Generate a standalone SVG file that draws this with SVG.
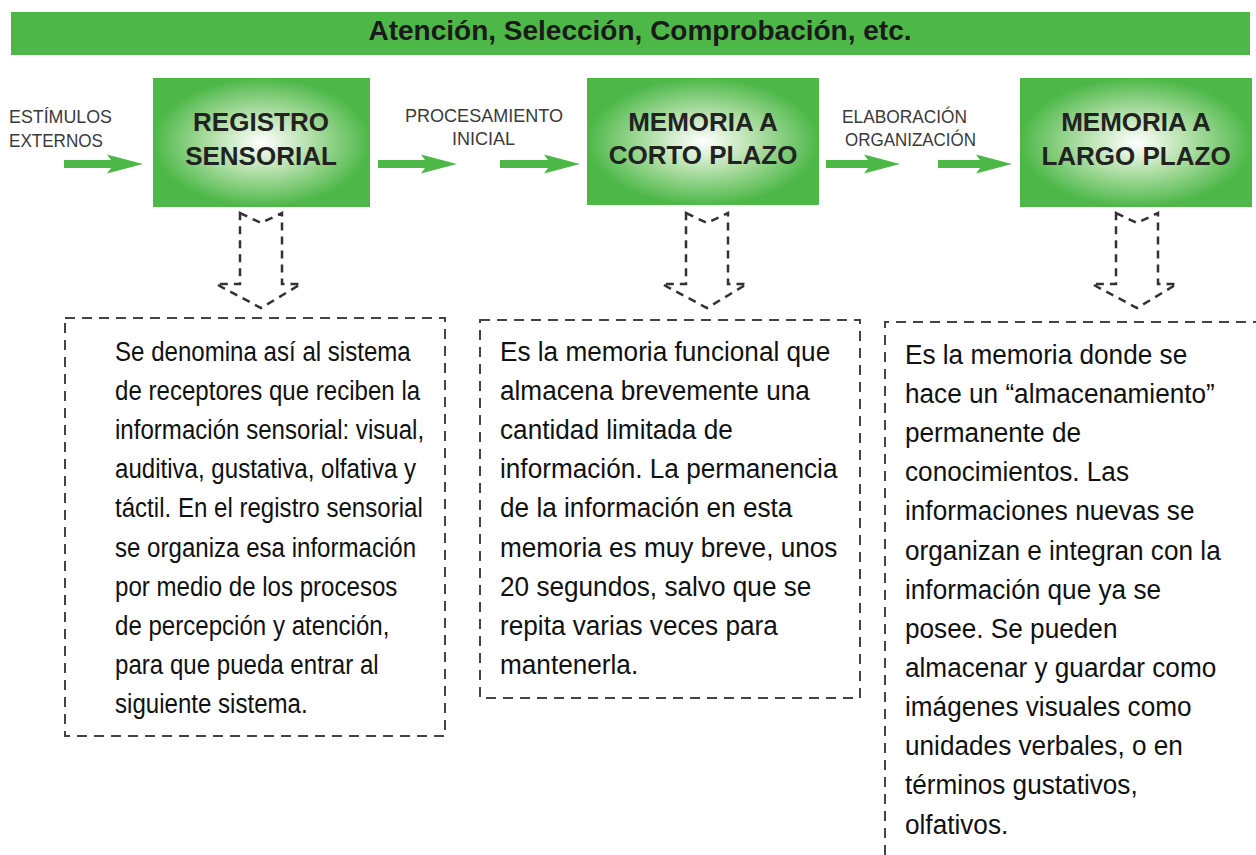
<svg xmlns="http://www.w3.org/2000/svg" width="1256" height="855" viewBox="0 0 1256 855">
<style>
.bar{fill:#4db848}
.title{font-family:"Liberation Sans",Arial,sans-serif;font-weight:bold;font-size:28px;fill:#1a1a1a}
.node{fill:url(#glow)}
.nlabel{font-family:"Liberation Sans",Arial,sans-serif;font-weight:bold;font-size:26px;fill:#222;text-anchor:middle}
.small{font-family:"Liberation Sans",Arial,sans-serif;font-size:19px;fill:#3a3a3a}
.garrow{fill:#4db848}
.darrow{fill:none;stroke:#333;stroke-width:2.5;stroke-dasharray:8 6}
.dbox{fill:none;stroke:#444;stroke-width:2;stroke-dasharray:10 7}
.body{font-family:"Liberation Sans",Arial,sans-serif;font-size:28px;fill:#111}
</style>
<defs>
<radialGradient id="glow" cx="0.5" cy="0.5" r="0.5">
<stop offset="0" stop-color="#ffffff"/>
<stop offset="0.45" stop-color="#b4e0aa"/>
<stop offset="1" stop-color="#4db848"/>
</radialGradient>
<path id="down" d="M0,0 L21,10 L42,0 L42,71 L61,71 L21,95 L-24,71 L0,71 Z"/>
</defs>

<g id="top-bar">
<rect class="bar" x="11" y="12" width="1239" height="43"/>
<text class="title" x="640" y="40" text-anchor="middle">Atención, Selección, Comprobación, etc.</text>
</g>

<g id="registro-sensorial">
<rect class="node" x="153" y="78" width="217" height="129"/>
<text class="nlabel" x="261" y="131">REGISTRO</text>
<text class="nlabel" x="261" y="165">SENSORIAL</text>
</g>

<g id="memoria-corto-plazo">
<rect class="node" x="587" y="78" width="232" height="127"/>
<text class="nlabel" x="703" y="131">MEMORIA A</text>
<text class="nlabel" x="703" y="164">CORTO PLAZO</text>
</g>

<g id="memoria-largo-plazo">
<rect class="node" x="1020" y="78" width="232" height="129"/>
<text class="nlabel" x="1136" y="131">MEMORIA A</text>
<text class="nlabel" x="1136" y="165">LARGO PLAZO</text>
</g>

<g id="labels">
<text class="small" x="9" y="123" textLength="103" lengthAdjust="spacingAndGlyphs">ESTÍMULOS</text>
<text class="small" x="9" y="147" textLength="94" lengthAdjust="spacingAndGlyphs">EXTERNOS</text>
<text class="small" x="405" y="122" textLength="158" lengthAdjust="spacingAndGlyphs">PROCESAMIENTO</text>
<text class="small" x="452" y="145" textLength="63" lengthAdjust="spacingAndGlyphs">INICIAL</text>
<text class="small" x="842" y="123" textLength="125" lengthAdjust="spacingAndGlyphs">ELABORACIÓN</text>
<text class="small" x="845" y="146" textLength="131" lengthAdjust="spacingAndGlyphs">ORGANIZACIÓN</text>
</g>

<g id="connectors">
<polygon class="garrow" points="64,160 111,160 107,154.5 143,164 107,173.5 111,168 64,168"/>
<polygon class="garrow" points="378,160 425,160 421,154.5 457,164 421,173.5 425,168 378,168"/>
<polygon class="garrow" points="500,160 548,160 544,154.5 580,164 544,173.5 548,168 500,168"/>
<polygon class="garrow" points="826,160 868,160 864,154.5 900,164 864,173.5 868,168 826,168"/>
<polygon class="garrow" points="938,160 980,160 976,154.5 1012,164 976,173.5 980,168 938,168"/>
<use href="#down" class="darrow" x="240" y="213"/>
<use href="#down" class="darrow" x="686" y="213"/>
<use href="#down" class="darrow" x="1116" y="213"/>
</g>

<g id="desc-registro">
<rect class="dbox" x="65" y="318" width="380" height="418"/>
<g transform="translate(115 0) scale(0.86 1)">
<text class="body" x="0" y="361">Se denomina así al sistema</text>
<text class="body" x="0" y="400">de receptores que reciben la</text>
<text class="body" x="0" y="439">información sensorial: visual,</text>
<text class="body" x="0" y="478">auditiva, gustativa, olfativa y</text>
<text class="body" x="0" y="517">táctil. En el registro sensorial</text>
<text class="body" x="0" y="557">se organiza esa información</text>
<text class="body" x="0" y="596">por medio de los procesos</text>
<text class="body" x="0" y="635">de percepción y atención,</text>
<text class="body" x="0" y="674">para que pueda entrar al</text>
<text class="body" x="0" y="713">siguiente sistema.</text>
</g>
</g>

<g id="desc-corto">
<rect class="dbox" x="480" y="320" width="380" height="378"/>
<g transform="translate(500 0) scale(0.935 1)">
<text class="body" x="0" y="361">Es la memoria funcional que</text>
<text class="body" x="0" y="400">almacena brevemente una</text>
<text class="body" x="0" y="439">cantidad limitada de</text>
<text class="body" x="0" y="478">información. La permanencia</text>
<text class="body" x="0" y="517">de la información en esta</text>
<text class="body" x="0" y="557">memoria es muy breve, unos</text>
<text class="body" x="0" y="596">20 segundos, salvo que se</text>
<text class="body" x="0" y="635">repita varias veces para</text>
<text class="body" x="0" y="674">mantenerla.</text>
</g>
</g>

<g id="desc-largo">
<path class="dbox" d="M885,855 V322 H1256"/>
<g transform="translate(905 0) scale(0.935 1)">
<text class="body" x="0" y="364">Es la memoria donde se</text>
<text class="body" x="0" y="403">hace un “almacenamiento”</text>
<text class="body" x="0" y="442">permanente de</text>
<text class="body" x="0" y="481">conocimientos. Las</text>
<text class="body" x="0" y="520">informaciones nuevas se</text>
<text class="body" x="0" y="560">organizan e integran con la</text>
<text class="body" x="0" y="599">información que ya se</text>
<text class="body" x="0" y="638">posee. Se pueden</text>
<text class="body" x="0" y="677">almacenar y guardar como</text>
<text class="body" x="0" y="716">imágenes visuales como</text>
<text class="body" x="0" y="755">unidades verbales, o en</text>
<text class="body" x="0" y="794">términos gustativos,</text>
<text class="body" x="0" y="834">olfativos.</text>
</g>
</g>
</svg>
